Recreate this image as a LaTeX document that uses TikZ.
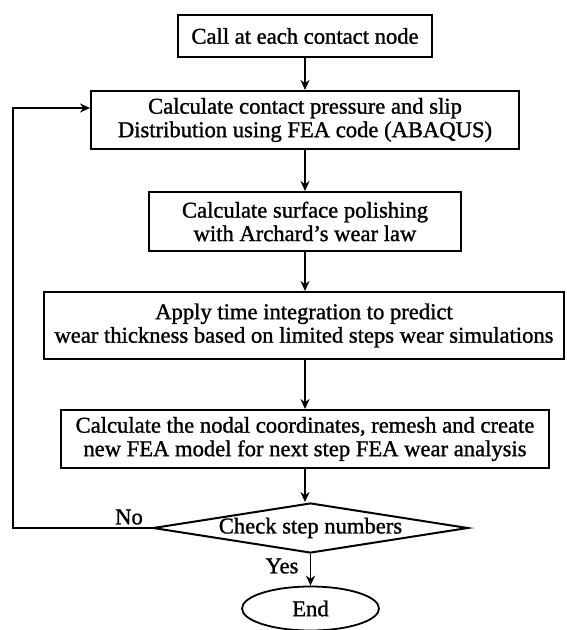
\documentclass[tikz,border=0pt]{standalone}
\usepackage{fontspec}
\setmainfont[FakeBold=1.2]{Liberation Serif}
\usetikzlibrary{shapes.geometric,arrows.meta}
\newcommand\flowfont{\fontsize{22.6}{23.5}\selectfont}
\tikzset{
  stepbox/.style={draw, line width=2pt, inner sep=0pt, align=center, font=\flowfont},
  decision/.style={draw, diamond, line width=2pt, inner sep=0pt, font=\flowfont},
  terminal/.style={draw, ellipse, line width=1.8pt, inner sep=0pt, font=\flowfont},
  flow/.style={line width=1.7pt, -{Stealth[length=10pt,width=9pt]}},
  lbl/.style={font=\flowfont, inner sep=0pt}
}
\begin{document}
\begin{tikzpicture}[x=1pt, y=-1pt]
  \useasboundingbox (0,0) rectangle (566,630);
  % process boxes
  \node[stepbox, minimum width=254pt, minimum height=42pt] (call) at (305,36) {Call at each contact node};
  \node[stepbox, minimum width=428pt, minimum height=58pt] (fea) at (305,120)
    {Calculate contact pressure and slip\\Distribution using FEA code (ABAQUS)};
  \node[stepbox, minimum width=312pt, minimum height=59pt] (polish) at (305,221.5)
    {Calculate surface polishing\\with Archard’s wear law};
  \node[stepbox, minimum width=520pt, minimum height=67pt] (integ) at (304,325.5)
    {Apply time integration to predict\\wear thickness based on limited steps wear simulations};
  \node[stepbox, minimum width=488pt, minimum height=58pt] (remesh) at (305,439)
    {Calculate the nodal coordinates, remesh and create\\new FEA model for next step FEA wear analysis};
  % decision and end
  \node[decision, minimum width=315pt, minimum height=50pt, aspect=6.3] (check) at (310.5,528) {Check step numbers};
  \node[terminal, minimum width=137pt, minimum height=44pt] (stop) at (310.5,608.5) {End};
  % loop-back corner
  \coordinate (loop) at (13,108);
  % connectors
  \draw[flow] (call.south) -- (call.south |- fea.north);
  \draw[flow] (fea.south) -- (fea.south |- polish.north);
  \draw[flow] (polish.south) -- (polish.south |- integ.north);
  \draw[flow] (polish.south |- integ.south) -- (polish.south |- remesh.north);
  \draw[flow] (remesh.south) -- (remesh.south |- check.north);
  \draw[flow] (check.south) -- (stop.north);
  \draw[flow] (check.west) -| (loop) -- (loop -| fea.west);
  % branch labels
  \node[lbl] (no) at (129,517) {No};
  \node[lbl] (yes) at (282,566) {Yes};
\end{tikzpicture}
\end{document}
